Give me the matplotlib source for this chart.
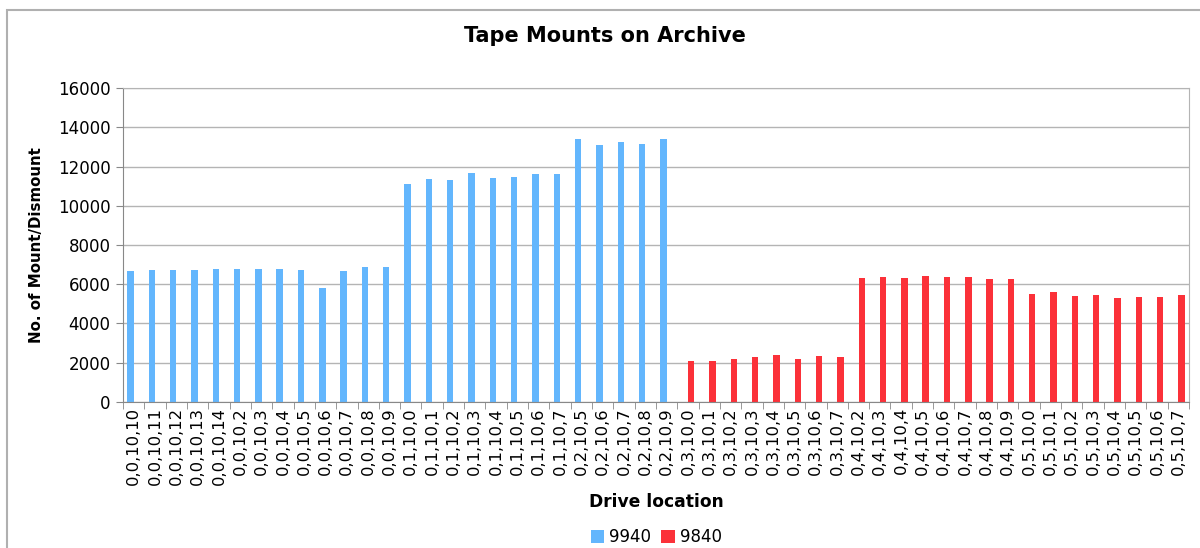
import matplotlib
matplotlib.use('Agg')
import numpy as np
from matplotlib import pyplot as plt
from matplotlib.patches import Rectangle

# drive locations
drives_9940 = ['0,0,10,10', '0,0,10,11', '0,0,10,12', '0,0,10,13', '0,0,10,14',
               '0,0,10,2', '0,0,10,3', '0,0,10,4', '0,0,10,5', '0,0,10,6',
               '0,0,10,7', '0,0,10,8', '0,0,10,9',
               '0,1,10,0', '0,1,10,1', '0,1,10,2', '0,1,10,3', '0,1,10,4',
               '0,1,10,5', '0,1,10,6', '0,1,10,7',
               '0,2,10,5', '0,2,10,6', '0,2,10,7', '0,2,10,8', '0,2,10,9']
drives_9840 = ['0,3,10,0', '0,3,10,1', '0,3,10,2', '0,3,10,3', '0,3,10,4',
               '0,3,10,5', '0,3,10,6', '0,3,10,7',
               '0,4,10,2', '0,4,10,3', '0,4,10,4', '0,4,10,5', '0,4,10,6',
               '0,4,10,7', '0,4,10,8', '0,4,10,9',
               '0,5,10,0', '0,5,10,1', '0,5,10,2', '0,5,10,3', '0,5,10,4',
               '0,5,10,5', '0,5,10,6', '0,5,10,7']

mounts_9940 = [6690, 6700, 6700, 6700, 6790, 6790, 6760, 6790, 6730, 5820,
               6680, 6860, 6850,
               11100, 11370, 11320, 11660, 11410, 11460, 11610, 11640,
               13400, 13110, 13250, 13160, 13420]
mounts_9840 = [2080, 2060, 2160, 2280, 2370, 2180, 2350, 2300,
               6330, 6370, 6300, 6400, 6350, 6370, 6250, 6270,
               5520, 5600, 5410, 5450, 5300, 5330, 5330, 5430]

yticks = [0, 2000, 4000, 6000, 8000, 10000, 12000, 14000, 16000]

blue = '#63b6fd'
red = '#fb3139'
grid_col = '#b4b4b4'

labels = drives_9940 + drives_9840
n1, n2 = len(drives_9940), len(drives_9840)
x1 = np.arange(n1)
x2 = np.arange(n1, n1 + n2)

fig = plt.figure(figsize=(12, 5.48), dpi=100)
ax = fig.add_axes([0.1025, 0.267, 0.8883, 0.572])

w = 0.3
ax.bar(x1 - w, mounts_9940, width=w, align='edge', color=blue, label='9940')
ax.bar(x2, mounts_9840, width=w, align='edge', color=red, label='9840')
ax.set_xlim(-0.5, len(labels) - 0.5)

ax.set_ylim(0, 16000)
ax.set_yticks(yticks)
ax.set_yticklabels([str(v) for v in yticks], fontsize=12)
ax.yaxis.grid(True, color=grid_col, lw=1)
ax.set_axisbelow(True)

ax.set_xticks(np.arange(len(labels)))
ax.set_xticklabels(labels, rotation=90, fontsize=11.8)
ax.set_xticks(np.arange(len(labels) + 1) - 0.5, minor=True)
ax.tick_params(axis='x', which='major', length=0, pad=4)
ax.tick_params(axis='x', which='minor', length=5, color='#888888', direction='out')
ax.tick_params(axis='y', length=5, color='#888888', direction='out', pad=4)

for s in ['top', 'right']:
    ax.spines[s].set_color(grid_col)
for s in ['left', 'bottom']:
    ax.spines[s].set_color('#888888')

ax.set_ylabel('No. of Mount/Dismount', fontsize=10.8, fontweight='bold', labelpad=10)
fig.text(0.5467, 0.084, 'Drive location', fontsize=12.3, fontweight='bold',
         ha='center', va='center')
fig.text(0.504, 0.934, 'Tape Mounts on Archive', fontsize=15, fontweight='bold',
         ha='center', va='center')

fig.legend(loc='center', bbox_to_anchor=(0.547, 0.02), ncol=2, frameon=False,
           fontsize=12, handlelength=0.8, handleheight=0.8, handletextpad=0.3,
           columnspacing=0.6)

# outer chart frame (runs off right/bottom edge)
fig.patches.append(Rectangle((7 / 1200, -0.5), 1.2, 1.5 - 9.5 / 548,
                             transform=fig.transFigure, fill=False,
                             edgecolor='#b0b0b0', lw=1.5))

fig.savefig('out.png', dpi=100)
